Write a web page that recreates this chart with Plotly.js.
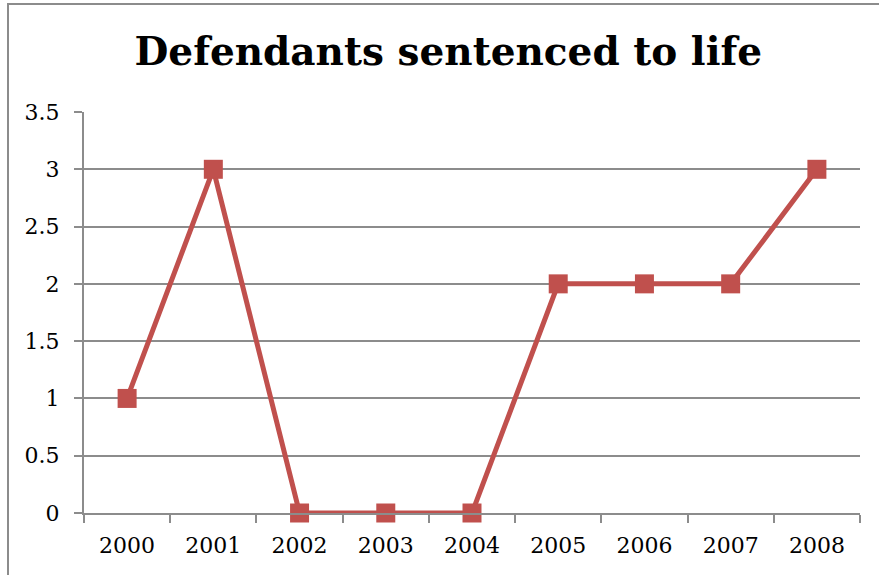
<!DOCTYPE html>
<html><head><meta charset="utf-8">
<script src="https://cdn.plot.ly/plotly-3.0.1.min.js"></script>
<style>html,body{margin:0;padding:0;background:#fff}#c{width:879px;height:575px;position:relative}#b{position:absolute;left:7px;top:3px;width:880px;height:600px;border-left:2px solid #8c8c8c;border-top:2px solid #8c8c8c;pointer-events:none}</style>
</head><body><div id="c"></div><div id="b"></div>
<script>
const years = ['2000','2001','2002','2003','2004','2005','2006','2007','2008'];
const sentencedToLife = [1, 3, 0, 0, 0, 2, 2, 2, 3];
const yTicks = [0, 0.5, 1, 1.5, 2, 2.5, 3, 3.5];
const yTickLabels = ['0','0.5','1','1.5','2','2.5','3','3.5'];
const font = 'DejaVu Serif, Liberation Serif, serif';
Plotly.newPlot('c', [{
  x: years, y: sentencedToLife, type: 'scatter', mode: 'lines+markers',
  line: {color: '#C0504D', width: 5},
  marker: {symbol: 'square', size: 19, color: '#C0504D'},
  cliponaxis: false
}], {
  width: 879, height: 575,
  margin: {l: 84, r: 19, t: 112, b: 62},
  paper_bgcolor: '#fff', plot_bgcolor: '#fff',
  showlegend: false,
  title: {text: '<b>Defendants sentenced to life</b>', font: {family: font, size: 39, color: '#000'}, x: 0.51, xanchor: 'center', y: 0.91, yanchor: 'middle'},
  xaxis: {type: 'category', range: [-0.5, 8.5], tickson: 'boundaries', ticks: 'outside', ticklen: 8, tickcolor: '#8c8c8c', tickwidth: 2,
    showline: true, linecolor: '#8c8c8c', linewidth: 2, showgrid: false, zeroline: false,
    tickfont: {family: font, size: 22, color: '#000'}, ticklabelstandoff: 12, fixedrange: true},
  yaxis: {range: [0, 3.5], tickvals: yTicks, ticktext: yTickLabels, ticks: 'outside', ticklen: 8, tickcolor: '#8c8c8c', tickwidth: 2,
    showline: true, linecolor: '#8c8c8c', linewidth: 2, showgrid: true, gridcolor: '#8c8c8c', gridwidth: 2, zeroline: false,
    tickfont: {family: font, size: 22, color: '#000'}, ticklabelstandoff: 10, fixedrange: true}
}, {displayModeBar: false, staticPlot: true});
</script></body></html>
